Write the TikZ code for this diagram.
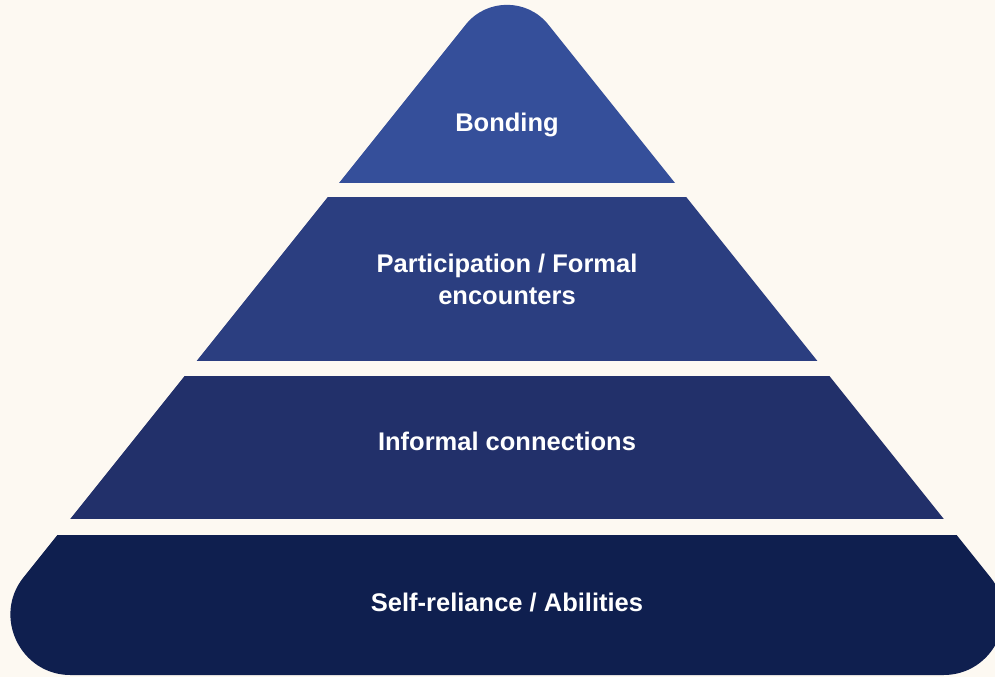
\documentclass[tikz,border=0pt]{standalone}
\usepackage{fontspec}
\setmainfont{Liberation Sans}
\usetikzlibrary{calc}

\definecolor{bgcream}{HTML}{FDF9F2}
\definecolor{tierA}{HTML}{354F9A}
\definecolor{tierB}{HTML}{2B3E80}
\definecolor{tierC}{HTML}{22306A}
\definecolor{tierD}{HTML}{0F1F4F}

\tikzset{
  tierlabel/.style={text=white, font=\fontsize{25.5}{32}\selectfont\bfseries, align=center}
}

\begin{document}
\begin{tikzpicture}[x=1pt, y=-1pt]
\fill[bgcream] (0,0) rectangle (995,677);
\useasboundingbox (0,0) rectangle (995,677);
\clip (0,0) rectangle (995,677);
% corners of the big triangle
\coordinate (apex) at (507,-27);
\coordinate (botL) at (-54.6,675);
\coordinate (botR) at (1068.6,675);
% tangent points of the rounded corners
\coordinate (apL) at ($(apex)!66pt!(botL)$);
\coordinate (apR) at ($(apex)!66pt!(botR)$);
\coordinate (blS) at ($(botL)!125pt!(apex)$);
\coordinate (blB) at ($(botL)!125pt!(botR)$);
\coordinate (brB) at ($(botR)!125pt!(botL)$);
\coordinate (brS) at ($(botR)!125pt!(apex)$);
\def\pyramid{(apL) .. controls ($(apL)!0.51!(apex)$) and ($(apR)!0.51!(apex)$) .. (apR)
  -- (brS) .. controls ($(brS)!0.40!(botR)$) and ($(brB)!0.40!(botR)$) .. (brB)
  -- (blB) .. controls ($(blB)!0.40!(botL)$) and ($(blS)!0.40!(botL)$) .. (blS) -- cycle}
% bands
\foreach \ytop/\ybot/\col in {-40/182/tierA, 197/360/tierB, 376/518/tierC, 535/700/tierD} {
  \begin{scope}
    \clip (-100,\ytop) rectangle (1100,\ybot);
    \fill[\col] \pyramid;
  \end{scope}
}
\node[tierlabel] (bonding) at (507,125) {Bonding};
\node[tierlabel] (formal) at (507,279) {Participation / Formal\\encounters};
\node[tierlabel] (informal) at (507,441) {Informal connections};
\node[tierlabel] (selfrel) at (507,603) {Self-reliance / Abilities};
\end{tikzpicture}
\end{document}
